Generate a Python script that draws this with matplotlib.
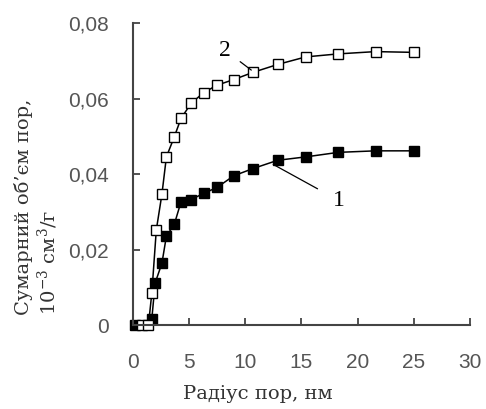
import matplotlib
matplotlib.use("Agg")
import matplotlib.pyplot as plt
from matplotlib.ticker import FuncFormatter

# radius, nm
r1 = [0.2, 1.7, 2.0, 2.6, 3.0, 3.7, 4.3, 5.2, 6.3, 7.5, 9.0, 10.7, 12.9, 15.4, 18.3, 21.6, 25.0]
v1 = [0.0, 0.0016, 0.0112, 0.0164, 0.0236, 0.0267, 0.0327, 0.0333, 0.0349, 0.0365, 0.0396,
      0.0415, 0.0437, 0.0446, 0.0458, 0.0462, 0.0462]

r2 = [0.8, 1.4, 1.7, 2.1, 2.6, 3.0, 3.7, 4.3, 5.2, 6.3, 7.5, 9.0, 10.7, 12.9, 15.4, 18.3, 21.6, 25.0]
v2 = [0.0, 0.0, 0.0084, 0.0252, 0.0347, 0.0446, 0.0499, 0.0548, 0.0588, 0.0616, 0.0636,
      0.0651, 0.067, 0.0691, 0.0711, 0.0719, 0.0725, 0.0723]

x_ticks = [0, 5, 10, 15, 20, 25, 30]
y_ticks = [0, 0.02, 0.04, 0.06, 0.08]

serif = 'DejaVu Serif'
plt.rcParams['mathtext.fontset'] = 'custom'
plt.rcParams['mathtext.rm'] = serif

fig = plt.figure(figsize=(4.86, 4.09), dpi=100)
ax = fig.add_axes([0.273, 0.205, 0.694, 0.738])

ax.plot(r1, v1, color='black', lw=1.1, marker='s', ms=6.5, mfc='black', mec='black', clip_on=False)
ax.plot(r2, v2, color='black', lw=1.1, marker='s', ms=6.5, mfc='white', mec='black', clip_on=False)

ax.set_xlim(0, 30)
ax.set_ylim(0, 0.08)
ax.set_xticks(x_ticks)
ax.set_yticks(y_ticks)
ax.yaxis.set_major_formatter(FuncFormatter(lambda v, p: '0' if v == 0 else f'{v:.2f}'.replace('.', ',')))

for s in ['top', 'right']:
    ax.spines[s].set_visible(False)
for s in ['left', 'bottom']:
    ax.spines[s].set_color('#444444')
    ax.spines[s].set_linewidth(1.5)
ax.tick_params(axis='x', direction='in', length=5, width=1.3, color='#444444',
               labelsize=15, labelcolor='#555555', pad=20)
ax.tick_params(axis='y', direction='in', length=5, width=1.3, color='#444444',
               labelsize=15, labelcolor='#555555', pad=17)
for lab in ax.get_xticklabels() + ax.get_yticklabels():
    lab.set_fontfamily('Liberation Sans')

# curve labels
ax.annotate('2', xy=(10.55, 0.0676), xytext=(8.2, 0.0729), fontsize=17,
            family='Liberation Serif', ha='center', va='center',
            arrowprops=dict(arrowstyle='-', color='black', lw=0.9, shrinkA=6, shrinkB=0))
ax.annotate('1', xy=(12.5, 0.0426), xytext=(18.3, 0.0331), fontsize=17,
            family='Liberation Serif', ha='center', va='center',
            arrowprops=dict(arrowstyle='-', color='black', lw=0.9, shrinkA=10, shrinkB=0))

fig.text(258 / 486, 1 - 394 / 409, 'Радіус пор, нм', fontsize=14, family=serif,
         color='#333333', ha='center', va='center')
fig.text(37 / 486, 1 - 207 / 409, 'Сумарний об’єм пор,\n10$^{ -3}$ см$^{3}$/г', fontsize=14,
         family=serif, color='#333333', ha='center', va='center',
         rotation=90, linespacing=1.15, multialignment='left')

fig.savefig('out.png', dpi=100)
